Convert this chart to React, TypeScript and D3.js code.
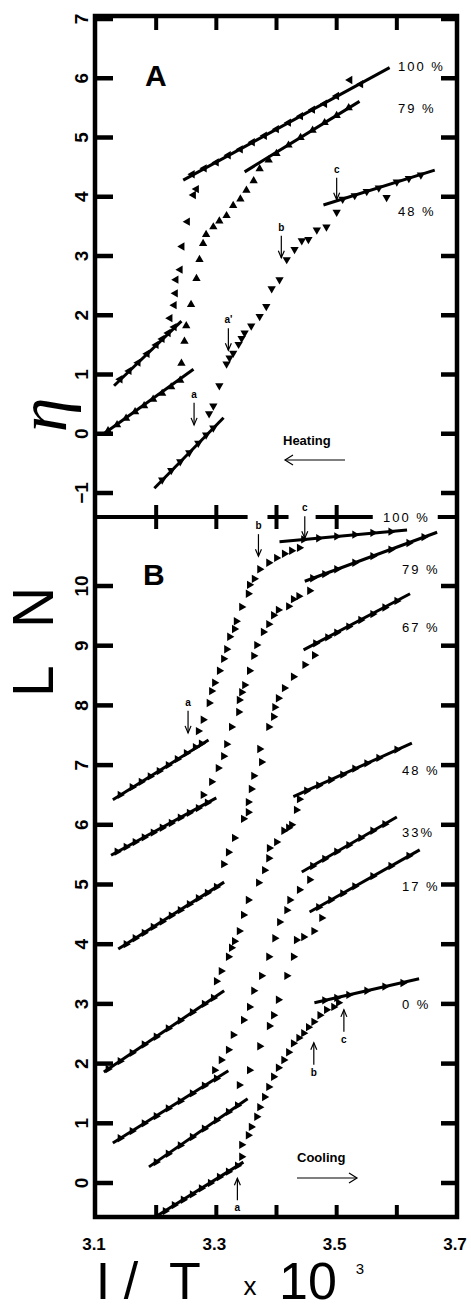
import React from 'react'
import * as d3 from 'd3'

const W = 471
const H = 1311

// axes
const xTicks = [3.2, 3.3, 3.4, 3.5, 3.6]
const xLabels = [3.1, 3.3, 3.5, 3.7]
const yTicksA = [-1, 0, 1, 2, 3, 4, 5, 6, 7]
const yTicksB = [0, 1, 2, 3, 4, 5, 6, 7, 8, 9, 10]

// panel A (heating) - fitted lines [x, eta]
const heat100Fit = [[[3.13, 0.81], [3.242, 1.9]], [[3.245, 4.28], [3.588, 6.18]]]
const heat79Fit = [[[3.113, 0.0], [3.262, 1.09]], [[3.347, 4.42], [3.538, 5.61]]]
const heat48Fit = [[[3.197, -0.92], [3.312, 0.27]], [[3.478, 3.86], [3.663, 4.45]]]

// panel A points
const heat100 = [
	[3.14, 0.92], [3.155, 1.06], [3.17, 1.2], [3.185, 1.35], [3.2, 1.5], [3.21, 1.6], [3.22, 1.7], [3.23, 1.8],
	[3.223, 1.95], [3.23, 2.17], [3.232, 2.37], [3.233, 2.6], [3.24, 2.77], [3.243, 3.16], [3.252, 3.58], [3.262, 4.03], [3.267, 4.13],
	[3.26, 4.38], [3.28, 4.48], [3.3, 4.58], [3.32, 4.7], [3.34, 4.8], [3.36, 4.92], [3.38, 5.03], [3.4, 5.14], [3.42, 5.25],
	[3.44, 5.36], [3.46, 5.47], [3.48, 5.57], [3.5, 5.7], [3.522, 5.97], [3.54, 5.9],
]
const heat79 = [
	[3.12, 0.05], [3.135, 0.15], [3.15, 0.26], [3.165, 0.37], [3.18, 0.47], [3.195, 0.58], [3.21, 0.68], [3.225, 0.79], [3.24, 0.9],
	[3.242, 1.19], [3.247, 1.56], [3.25, 1.82], [3.258, 2.18], [3.267, 2.62], [3.272, 2.94], [3.278, 3.21], [3.283, 3.36],
	[3.295, 3.49], [3.305, 3.59], [3.317, 3.68], [3.328, 3.85], [3.34, 3.96], [3.35, 4.11], [3.362, 4.27], [3.372, 4.47],
	[3.387, 4.62], [3.4, 4.73], [3.42, 4.87], [3.44, 5.0], [3.46, 5.12], [3.48, 5.25], [3.5, 5.37], [3.52, 5.5],
]
const heat48 = [
	[3.21, -0.78], [3.225, -0.62], [3.24, -0.47], [3.255, -0.32], [3.27, -0.16], [3.283, -0.02], [3.295, 0.1],
	[3.288, 0.34], [3.295, 0.47], [3.305, 0.81], [3.317, 1.18], [3.322, 1.28], [3.328, 1.36], [3.337, 1.51], [3.342, 1.61],
	[3.347, 1.7], [3.358, 1.82], [3.372, 1.98], [3.383, 2.15], [3.392, 2.45], [3.405, 2.6], [3.417, 2.94], [3.43, 3.11],
	[3.442, 3.26], [3.453, 3.28], [3.467, 3.44], [3.483, 3.49], [3.5, 3.74],
	[3.51, 3.96], [3.53, 4.02], [3.55, 4.09], [3.57, 4.15], [3.583, 3.99], [3.6, 4.25], [3.62, 4.31], [3.64, 4.37],
]

// panel B (cooling) - fitted lines [x, LN]
const cool100Fit = [[[3.128, 6.42], [3.287, 7.42]], [[3.405, 10.74], [3.617, 10.94]]]
const cool79Fit = [[[3.125, 5.49], [3.3, 6.45]], [[3.447, 10.08], [3.667, 10.9]]]
const cool67Fit = [[[3.137, 3.92], [3.313, 5.04]], [[3.445, 8.93], [3.622, 9.87]]]
const cool48Fit = [[[3.113, 1.86], [3.313, 3.22]], [[3.428, 6.47], [3.625, 7.37]]]
const cool33Fit = [[[3.128, 0.67], [3.32, 1.88]], [[3.442, 5.21], [3.6, 6.13]]]
const cool17Fit = [[[3.188, 0.27], [3.352, 1.41]], [[3.455, 4.54], [3.638, 5.58]]]
const cool0Fit = [[[3.203, -0.54], [3.345, 0.35]], [[3.463, 3.02], [3.637, 3.42]]]

// panel B points
const cool100 = [
	[3.14, 6.5], [3.16, 6.63], [3.175, 6.72], [3.19, 6.81], [3.205, 6.9], [3.22, 7.0], [3.235, 7.1], [3.25, 7.2], [3.265, 7.3], [3.275, 7.36],
	[3.27, 7.57], [3.278, 7.76], [3.288, 8.04], [3.292, 8.24], [3.297, 8.38], [3.305, 8.58], [3.312, 8.78], [3.317, 8.94],
	[3.322, 9.15], [3.33, 9.28], [3.333, 9.41], [3.342, 9.65], [3.353, 9.87], [3.355, 10.02], [3.363, 10.12], [3.372, 10.28],
	[3.387, 10.39], [3.4, 10.47], [3.413, 10.54], [3.425, 10.59], [3.438, 10.64],
	[3.445, 10.78], [3.47, 10.8], [3.5, 10.83], [3.53, 10.86], [3.56, 10.89], [3.59, 10.91],
]
const cool79 = [
	[3.135, 5.55], [3.15, 5.63], [3.165, 5.71], [3.18, 5.79], [3.195, 5.87], [3.21, 5.95], [3.225, 6.03], [3.24, 6.12], [3.255, 6.2], [3.27, 6.28], [3.285, 6.37],
	[3.278, 6.5], [3.292, 6.72], [3.303, 6.95], [3.312, 7.15], [3.317, 7.35], [3.325, 7.64], [3.337, 7.89], [3.338, 8.09],
	[3.342, 8.22], [3.347, 8.34], [3.355, 8.58], [3.362, 8.83], [3.367, 9.01], [3.378, 9.23], [3.387, 9.36], [3.395, 9.51],
	[3.403, 9.6], [3.42, 9.66], [3.428, 9.78], [3.437, 9.83], [3.455, 9.92],
	[3.46, 10.13], [3.48, 10.2], [3.5, 10.28], [3.53, 10.39], [3.56, 10.5], [3.59, 10.61], [3.62, 10.72], [3.645, 10.82],
]
const cool67 = [
	[3.15, 4.0], [3.165, 4.1], [3.18, 4.19], [3.195, 4.29], [3.21, 4.38], [3.225, 4.48], [3.24, 4.57], [3.255, 4.67], [3.27, 4.77], [3.285, 4.86], [3.3, 4.96],
	[3.312, 5.34], [3.32, 5.54], [3.33, 5.78], [3.345, 6.1], [3.353, 6.21], [3.353, 6.38], [3.358, 6.6], [3.362, 6.82],
	[3.375, 7.05], [3.372, 7.27], [3.387, 7.64], [3.395, 7.81], [3.397, 7.97], [3.403, 8.12], [3.413, 8.29], [3.428, 8.48],
	[3.447, 8.68], [3.463, 8.84],
	[3.465, 9.04], [3.485, 9.14], [3.5, 9.22], [3.52, 9.32], [3.54, 9.43], [3.56, 9.53], [3.58, 9.64], [3.6, 9.75],
]
const cool48 = [
	[3.12, 1.91], [3.14, 2.04], [3.16, 2.18], [3.18, 2.32], [3.2, 2.45], [3.22, 2.59], [3.24, 2.72], [3.26, 2.86], [3.28, 3.0], [3.295, 3.1],
	[3.3, 3.38], [3.308, 3.55], [3.32, 3.79], [3.325, 3.94], [3.33, 4.05], [3.338, 4.22], [3.345, 4.49], [3.353, 4.74],
	[3.37, 5.03], [3.38, 5.24], [3.387, 5.44], [3.388, 5.61], [3.4, 5.71], [3.412, 5.9], [3.42, 5.95], [3.425, 6.0],
	[3.433, 6.25], [3.438, 6.43],
	[3.45, 6.57], [3.47, 6.66], [3.49, 6.75], [3.51, 6.84], [3.53, 6.94], [3.55, 7.03], [3.57, 7.12], [3.6, 7.26],
]
const cool33 = [
	[3.14, 0.75], [3.16, 0.87], [3.18, 1.0], [3.2, 1.12], [3.22, 1.25], [3.24, 1.37], [3.26, 1.5], [3.28, 1.63], [3.3, 1.75],
	[3.297, 1.89], [3.308, 2.06], [3.32, 2.23], [3.328, 2.48], [3.345, 2.73], [3.355, 2.95], [3.362, 3.22], [3.375, 3.47],
	[3.387, 3.79], [3.397, 4.1], [3.405, 4.37], [3.417, 4.57], [3.422, 4.74], [3.438, 4.91], [3.455, 5.08],
	[3.46, 5.31], [3.48, 5.43], [3.5, 5.55], [3.52, 5.66], [3.54, 5.78], [3.56, 5.9], [3.58, 6.01],
]
const cool17 = [
	[3.2, 0.35], [3.22, 0.49], [3.24, 0.63], [3.26, 0.77], [3.28, 0.91], [3.3, 1.05], [3.32, 1.19], [3.335, 1.3],
	[3.338, 1.64], [3.355, 1.89], [3.372, 2.29], [3.388, 2.63], [3.395, 2.81], [3.403, 3.07], [3.417, 3.47], [3.428, 3.79],
	[3.433, 4.07], [3.445, 4.12], [3.462, 4.22], [3.475, 4.44],
	[3.47, 4.62], [3.49, 4.74], [3.51, 4.85], [3.53, 4.97], [3.56, 5.14], [3.59, 5.31], [3.62, 5.48],
]
const cool0 = [
	[3.215, -0.47], [3.23, -0.37], [3.245, -0.28], [3.26, -0.19], [3.275, -0.09], [3.29, 0.0], [3.305, 0.1], [3.32, 0.19], [3.335, 0.29],
	[3.342, 0.44], [3.342, 0.64], [3.353, 0.8], [3.358, 0.94], [3.367, 1.11], [3.372, 1.27], [3.38, 1.44], [3.387, 1.61],
	[3.395, 1.78], [3.403, 1.93], [3.412, 2.06], [3.42, 2.19], [3.428, 2.34], [3.437, 2.43], [3.445, 2.51], [3.453, 2.61],
	[3.462, 2.7], [3.472, 2.81], [3.483, 2.9], [3.495, 2.95], [3.503, 3.02],
	[3.48, 3.06], [3.5, 3.1], [3.52, 3.15], [3.55, 3.22], [3.58, 3.29], [3.61, 3.35],
]

// series labels
const labelsA = [
	{ text: '100 %', v: 6.2 },
	{ text: '79 %', v: 5.5 },
	{ text: '48 %', v: 3.76 },
]
const labelsB = [
	{ text: '79 %', v: 10.28 },
	{ text: '67 %', v: 9.31 },
	{ text: '48 %', v: 6.92 },
	{ text: '33%', v: 5.88 },
	{ text: '17 %', v: 4.98 },
	{ text: '0 %', v: 3.0 },
]

// event arrows: x, tip value, direction
const arrowsA = [
	{ label: 'a', x: 3.263, v: 0.15, dir: 'down' },
	{ label: "a'", x: 3.32, v: 1.41, dir: 'down' },
	{ label: 'b', x: 3.408, v: 2.97, dir: 'down' },
	{ label: 'c', x: 3.5, v: 3.95, dir: 'down' },
]
const arrowsB = [
	{ label: 'a', x: 3.253, v: 7.54, dir: 'down' },
	{ label: 'b', x: 3.37, v: 10.5, dir: 'down' },
	{ label: 'c', x: 3.447, v: 10.8, dir: 'down' },
	{ label: 'a', x: 3.335, v: 0.08, dir: 'up' },
	{ label: 'b', x: 3.462, v: 2.35, dir: 'up' },
	{ label: 'c', x: 3.512, v: 2.9, dir: 'up' },
]

const x = d3.scaleLinear().domain([3.1, 3.7]).range([96, 457])
const yA = d3.scaleLinear().domain([-1, 7]).range([493, 19])
const yB = d3.scaleLinear().domain([0, 10]).range([1183, 586])

const L = 95
const R = 457
const TOP = 16
const MID = 517
const BOT = 1217
const font = 'Liberation Sans, Arial, sans-serif'

const tri = d3.symbol().type(d3.symbolTriangle).size(30)()

function Markers({ pts, y, rot }) {
	return (
		<g fill="#000">
			{pts.map(([a, b], i) => (
				<path key={i} d={tri} transform={`translate(${x(a)},${y(b)}) rotate(${rot})`} />
			))}
		</g>
	)
}

function Fits({ segs, y }) {
	return (
		<g stroke="#000" strokeWidth={3}>
			{segs.map(([p, q], i) => (
				<line key={i} x1={x(p[0])} y1={y(p[1])} x2={x(q[0])} y2={y(q[1])} />
			))}
		</g>
	)
}

function Arrow({ a, y }) {
	const px = x(a.x)
	const tip = y(a.v)
	const len = 22
	const s = a.dir === 'down' ? -1 : 1
	const tail = tip + s * len
	return (
		<g>
			<line x1={px} y1={tail} x2={px} y2={tip} stroke="#000" strokeWidth={1.2} />
			<path d={`M${px - 3},${tip + s * 7} L${px},${tip} L${px + 3},${tip + s * 7}`} fill="none" stroke="#000" strokeWidth={1.2} />
			<text x={px} y={a.dir === 'down' ? tail - 5 : tail + 11} textAnchor="middle" fontSize={10} fontFamily={font} fontWeight="bold">
				{a.label}
			</text>
		</g>
	)
}

export default function App() {
	return (
		<svg width={W} height={H} style={{ position: 'absolute', left: 0, top: 0, background: '#fff' }}>
			<rect x={0} y={0} width={W} height={H} fill="#fff" />

			{/* frame */}
			<rect x={L} y={TOP} width={R - L} height={BOT - TOP} fill="none" stroke="#000" strokeWidth={4.5} />

			{/* panel divider with gaps and crosses */}
			<g stroke="#000" strokeWidth={4}>
				<line x1={L} y1={MID} x2={x(3.352)} y2={MID} />
				<line x1={x(3.385)} y1={MID} x2={x(3.42)} y2={MID} />
				<line x1={x(3.465)} y1={MID} x2={x(3.56)} y2={MID} />
				<line x1={x(3.668)} y1={MID} x2={R} y2={MID} />
				{xTicks.slice(0, 4).map((t) => (
					<line key={t} x1={x(t)} y1={MID - 12} x2={x(t)} y2={MID + 12} />
				))}
			</g>

			{/* x ticks top and bottom */}
			<g stroke="#000" strokeWidth={4}>
				{xTicks.map((t) => (
					<line key={'t' + t} x1={x(t)} y1={TOP} x2={x(t)} y2={TOP + 14} />
				))}
				{xTicks.map((t) => (
					<line key={'b' + t} x1={x(t)} y1={BOT} x2={x(t)} y2={BOT - 12} />
				))}
			</g>

			{/* y ticks */}
			<g stroke="#000" strokeWidth={4.5}>
				{yTicksA.map((t) => (
					<g key={'a' + t}>
						<line x1={L} y1={yA(t)} x2={L + 18} y2={yA(t)} />
						<line x1={R} y1={yA(t)} x2={R - 16} y2={yA(t)} />
					</g>
				))}
				{yTicksB.map((t) => (
					<g key={'b' + t}>
						<line x1={L} y1={yB(t)} x2={L + 18} y2={yB(t)} />
						<line x1={R} y1={yB(t)} x2={R - 16} y2={yB(t)} />
					</g>
				))}
			</g>

			{/* y tick labels */}
			<g fontFamily={font} fontWeight="bold" fontSize={19} textAnchor="middle">
				{yTicksA.map((t) => (
					<text key={'la' + t} transform={`translate(88,${yA(t)}) rotate(-90)`}>
						{t < 0 ? '\u2212' + Math.abs(t) : t}
					</text>
				))}
				{yTicksB.map((t) => (
					<text key={'lb' + t} transform={`translate(88,${yB(t)}) rotate(-90)`}>
						{t}
					</text>
				))}
			</g>

			{/* x tick labels */}
			<g fontFamily={font} fontWeight="bold" fontSize={17} textAnchor="middle">
				{xLabels.map((t) => (
					<text key={t} x={x(t) - 2} y={1250}>
						{t.toFixed(1)}
					</text>
				))}
			</g>

			{/* axis titles */}
			<text transform="translate(66,415) rotate(-90)" textAnchor="middle" fontFamily="Liberation Serif, serif" fontStyle="italic" fontSize={70}>
				η
			</text>
			<g fontFamily={font} fontSize={57}>
				<text transform="translate(53,697) rotate(-90)">L</text>
				<text transform="translate(53,628) rotate(-90)">N</text>
			</g>
			<g fontFamily={font} fill="#000">
				<text x={103} y={1299} fontSize={52} textAnchor="middle">I</text>
				<text x={131} y={1299} fontSize={52} textAnchor="middle">/</text>
				<text x={185} y={1299} fontSize={52} textAnchor="middle">T</text>
				<text x={250} y={1295} fontSize={26} textAnchor="middle">x</text>
				<text x={308} y={1299} fontSize={52} textAnchor="middle">10</text>
				<text x={360} y={1274} fontSize={15} textAnchor="middle">3</text>
			</g>

			{/* panel letters */}
			<text x={145} y={86} fontFamily={font} fontWeight="bold" fontSize={30}>A</text>
			<text x={143} y={585} fontFamily={font} fontWeight="bold" fontSize={30}>B</text>

			{/* fitted lines */}
			<Fits segs={heat100Fit} y={yA} />
			<Fits segs={heat79Fit} y={yA} />
			<Fits segs={heat48Fit} y={yA} />
			<Fits segs={cool100Fit} y={yB} />
			<Fits segs={cool79Fit} y={yB} />
			<Fits segs={cool67Fit} y={yB} />
			<Fits segs={cool48Fit} y={yB} />
			<Fits segs={cool33Fit} y={yB} />
			<Fits segs={cool17Fit} y={yB} />
			<Fits segs={cool0Fit} y={yB} />

			{/* markers */}
			<Markers pts={heat100} y={yA} rot={-90} />
			<Markers pts={heat79} y={yA} rot={0} />
			<Markers pts={heat48} y={yA} rot={180} />
			<Markers pts={cool100} y={yB} rot={90} />
			<Markers pts={cool79} y={yB} rot={90} />
			<Markers pts={cool67} y={yB} rot={90} />
			<Markers pts={cool48} y={yB} rot={90} />
			<Markers pts={cool33} y={yB} rot={90} />
			<Markers pts={cool17} y={yB} rot={90} />
			<Markers pts={cool0} y={yB} rot={90} />

			{/* series labels */}
			<g fontFamily={font} fontSize={13} letterSpacing={2}>
				{labelsA.map((d) => (
					<text key={'A' + d.text} x={398} y={yA(d.v) + 5}>{d.text}</text>
				))}
				<text x={383} y={522}>100 %</text>
				{labelsB.map((d) => (
					<text key={'B' + d.text} x={402} y={yB(d.v) + 5}>{d.text}</text>
				))}
			</g>

			{/* arrows */}
			{arrowsA.map((a, i) => <Arrow key={'aa' + i} a={a} y={yA} />)}
			{arrowsB.map((a, i) => <Arrow key={'ab' + i} a={a} y={yB} />)}

			{/* heating / cooling */}
			<g fontFamily={font} fontWeight="bold" fontSize={13}>
				<text x={283} y={445}>Heating</text>
				<text x={297} y={1162}>Cooling</text>
			</g>
			<g stroke="#000" strokeWidth={1.2} fill="none">
				<line x1={345} y1={460} x2={285} y2={460} />
				<path d="M293,455 L285,460 L293,465" />
				<line x1={297} y1={1178} x2={357} y2={1178} />
				<path d="M349,1173 L357,1178 L349,1183" />
			</g>
		</svg>
	)
}
